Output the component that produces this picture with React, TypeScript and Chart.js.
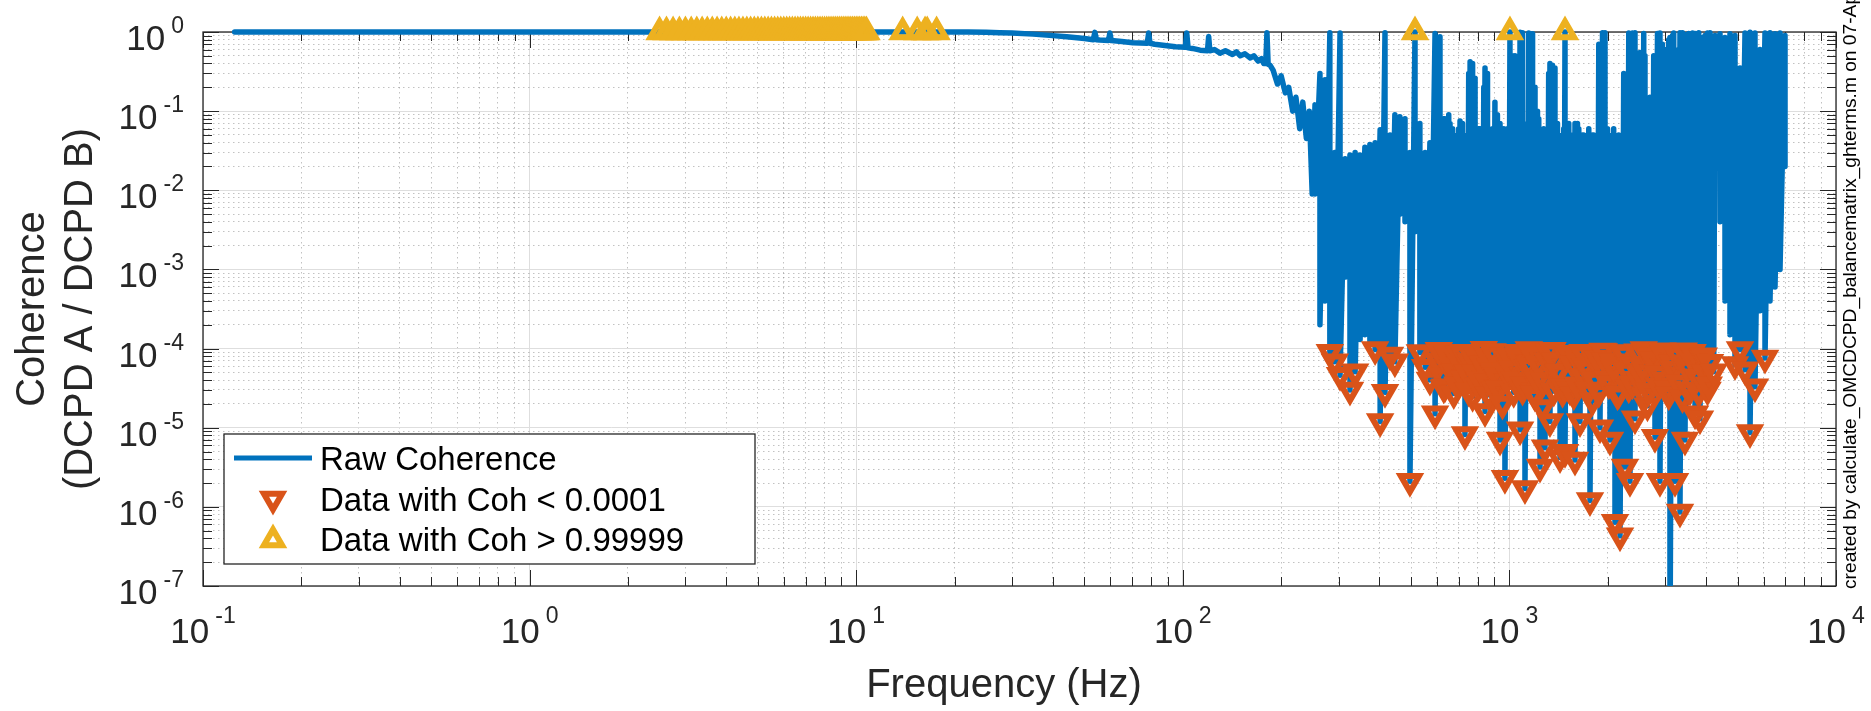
import React, { useEffect, useRef } from "react";
import { Chart, registerables } from "chart.js";

Chart.register(...registerables);

const FONT = "'Liberation Sans', Arial, Helvetica, sans-serif";
const BLUE = "#0072BD";
const RED = "#D95319";
const GOLD = "#EDB120";
const AXIS = "#262626";

// ---- Raw coherence: smooth low-frequency part (Hz, coherence) ----
const smoothFreq = [
  0.125, 0.25, 0.5, 0.75, 1, 1.5, 2, 2.25, 2.375, 10.875, 11.25, 11.75, 12.25, 12.75, 13.25,
  14.25, 14.75, 16.875, 18.25, 19, 20, 22, 25, 27.5, 30, 34.8, 40, 44.1, 50, 53.2, 53.8, 54.4,
  55.7, 59.2, 59.8, 60.4, 65, 70.4, 77.8, 78.6, 79.4, 82, 89.5, 95, 101.8, 102.8, 103.8, 107,
  113, 119, 120, 121, 125, 130, 135, 142, 146, 150, 155, 161, 165, 170, 174, 177, 179.5, 181,
  182.5, 185, 189, 195, 200, 206, 211, 217, 222, 228, 233, 239, 244, 249,
];
const smoothCoh = [
  0.9995, 0.9996, 0.9997, 0.9997, 0.9998, 0.9998, 0.9999, 0.9999, 0.99998, 0.99998, 0.99997,
  0.99995, 0.99995, 0.99996, 0.99995, 0.99996, 0.99994, 0.99995, 0.9999, 0.9998, 0.9996, 0.999,
  0.995, 0.98, 0.97, 0.94, 0.9, 0.87, 0.83, 0.8, 0.99, 0.8, 0.79, 0.78, 0.97, 0.78, 0.76, 0.73,
  0.72, 0.97, 0.72, 0.7, 0.67, 0.65, 0.64, 0.97, 0.63, 0.62, 0.59, 0.58, 0.88, 0.58, 0.6, 0.54,
  0.58, 0.52, 0.56, 0.5, 0.53, 0.47, 0.5, 0.43, 0.46, 0.4, 0.4, 0.98, 0.39, 0.38, 0.33, 0.22,
  0.28, 0.17, 0.2, 0.1, 0.15, 0.06, 0.13, 0.045, 0.1, 0.009,
];

// ---- Raw coherence: bins where coherence sits at unity (Hz, coherence) ----
const unityFreq = [
  2.5, 2.625, 2.75, 2.875, 3, 3.125, 3.25, 3.375, 3.5, 3.625, 3.75, 3.875, 4, 4.125, 4.25, 4.375,
  4.5, 4.625, 4.75, 4.875, 5, 5.125, 5.25, 5.375, 5.5, 5.625, 5.75, 5.875, 6, 6.125, 6.25, 6.375,
  6.5, 6.625, 6.75, 6.875, 7, 7.125, 7.25, 7.375, 7.5, 7.625, 7.75, 7.875, 8, 8.125, 8.25, 8.375,
  8.5, 8.625, 8.75, 8.875, 9, 9.125, 9.25, 9.375, 9.5, 9.625, 9.75, 9.875, 10, 10.125, 10.25,
  10.375, 10.5, 10.625, 10.75, 13.875, 15.375, 16.25, 16.5, 17.625,
];
const unityCoh = [
  0.999995, 0.999995, 0.999995, 0.999995, 0.999995, 0.999995, 0.999995, 0.999995, 0.999995,
  0.999995, 0.999995, 0.999995, 0.999995, 0.999995, 0.999995, 0.999995, 0.999995, 0.999995,
  0.999995, 0.999995, 0.999995, 0.999995, 0.999995, 0.999995, 0.999995, 0.999995, 0.999995,
  0.999995, 0.999995, 0.999995, 0.999995, 0.999995, 0.999995, 0.999995, 0.999995, 0.999995,
  0.999995, 0.999995, 0.999995, 0.999995, 0.999995, 0.999995, 0.999995, 0.999995, 0.999995,
  0.999995, 0.999995, 0.999995, 0.999995, 0.999995, 0.999995, 0.999995, 0.999995, 0.999995,
  0.999995, 0.999995, 0.999995, 0.999995, 0.999995, 0.999995, 0.999995, 0.999995, 0.999995,
  0.999995, 0.999995, 0.999995, 0.999995, 0.999995, 0.999995, 0.999995, 0.999995, 0.999995,
];

// ---- Raw coherence: noisy high-frequency part, each bin holds a high and a low sample ----
const noiseFreq = [
  254, 263, 272.5, 282, 292, 303, 314, 325, 337, 349, 361, 374, 388, 402, 416, 431, 446, 462, 479,
  496, 514, 532, 552, 571, 592, 613, 635, 658, 681, 706, 731, 758, 785, 813, 842, 872, 903, 936,
  969, 1004, 1040, 1078, 1116, 1157, 1198, 1241, 1285, 1331, 1379, 1429, 1480, 1533, 1588, 1645,
  1704, 1765, 1829, 1894, 1962, 2032, 2105, 2181, 2259, 2340, 2424, 2511, 2601, 2694, 2791, 2891,
  2995, 3102, 3214, 3329, 3448, 3573, 3701, 3833, 3971, 4113, 4261, 4414, 4572, 4736, 4906, 5082,
  5265, 5454, 5649, 5852, 6062, 6280, 6505, 6739, 6981,
];
const noiseHigh = [
  0.12, 0.3, 0.25, 0.98, 0.03, 0.97, 0.025, 0.028, 0.03, 0.028, 0.035, 0.038, 0.04, 0.058, 0.98,
  0.05, 0.09, 0.085, 0.08, 0.03, 0.999995, 0.07, 0.03, 0.04, 0.96, 0.87, 0.08, 0.07, 0.035, 0.075,
  0.04, 0.42, 0.26, 0.06, 0.35, 0.05, 0.13, 0.07, 0.04, 0.999995, 0.5, 0.99, 0.04, 0.96, 0.2,
  0.045, 0.035, 0.4, 0.35, 0.04, 0.999995, 0.035, 0.07, 0.04, 0.03, 0.035, 0.03, 0.035, 0.98, 0.04,
  0.045, 0.035, 0.04, 0.05, 0.98, 0.55, 0.5, 0.15, 0.06, 0.97, 0.6, 0.85, 0.06, 0.98, 0.93, 0.1,
  0.96, 0.4, 0.9, 0.98, 0.9, 0.95, 0.85, 0.95, 0.9, 0.35, 0.97, 0.99, 0.97, 0.6, 0.97, 0.98, 0.95,
  0.97, 0.9,
];
const noiseLow = [
  0.009, 2e-4, 4e-4, 9e-5, 6.8e-5, 4.6e-5, 8e-4, 3e-5, 5.1e-5, 1.3e-4, 1.5e-4, 1.2e-4, 9.7e-5,
  1.2e-5, 2.8e-5, 8.3e-5, 6.8e-5, 5e-3, 4e-3, 2.1e-6, 3e-3, 8.9e-5, 5.8e-5, 4e-5, 1.5e-5, 9e-5,
  3.3e-5, 1.2e-3, 5.1e-5, 6.7e-5, 8.2e-6, 7e-5, 5e-5, 4e-5, 1.6e-5, 6e-5, 3e-5, 7e-6, 2.3e-6,
  8e-5, 4e-5, 9.4e-6, 1.7e-6, 6e-5, 2.5e-5, 3.2e-6, 5.6e-6, 1.2e-5, 7e-5, 4.2e-6, 4.9e-6, 3e-5,
  3.9e-6, 1.2e-5, 6e-5, 1.2e-6, 4e-5, 1e-5, 7e-5, 7e-6, 6.4e-7, 4.3e-7, 3.2e-6, 2.1e-6, 1.3e-5,
  5e-5, 2.5e-5, 8e-5, 7.6e-6, 2.1e-6, 4e-5, 1e-8, 2.1e-6, 8.6e-7, 7e-6, 3e-5, 1.5e-5, 1.3e-5,
  5e-5, 6.7e-5, 0.02, 0.004, 4e-4, 1.5e-4, 6.3e-5, 9.7e-5, 5.4e-5, 8.7e-6, 3.3e-5, 3e-4, 7.6e-5,
  4e-4, 6e-4, 1e-3, 0.02,
];

// ---- Raw coherence: extra interleaved bins in the dense 600 Hz - 4.2 kHz band ----
const denseFreqA = [
  602.5, 624, 646, 670, 693, 718.5, 744, 771.5, 799, 827.5, 857, 887.5, 919, 952.5, 986, 1022,
  1058.5, 1097, 1136, 1177.5, 1219, 1263, 1308, 1355, 1403.5, 1454.5, 1506, 1560, 1616, 1674,
  1734, 1796, 1861.5, 1928, 1997, 2068, 2142.5, 2220, 2299, 2381.5, 2467, 2556, 2647, 2742, 2841,
  2942, 3048, 3157, 3271, 3388, 3509, 3637, 3767, 3901, 4042, 4186,
];
const denseHighA = [
  0.06, 0.08, 0.05, 0.06, 0.05, 0.07, 0.05, 0.4, 0.06, 0.05, 0.3, 0.06, 0.09, 0.05, 0.06, 0.5,
  0.06, 0.98, 0.06, 0.95, 0.1, 0.05, 0.06, 0.38, 0.07, 0.05, 0.06, 0.05, 0.07, 0.05, 0.045, 0.05,
  0.045, 0.98, 0.06, 0.05, 0.045, 0.05, 0.06, 0.97, 0.5, 0.45, 0.1, 0.07, 0.96, 0.7, 0.6, 0.9,
  0.3, 0.98, 0.15, 0.97, 0.5, 0.85, 0.97, 0.8,
];
const denseLowA = [
  7e-5, 4.5e-5, 8.5e-5, 6e-5, 3.5e-5, 9e-5, 5e-5, 2.5e-5, 8e-5, 6.5e-5, 3.8e-5, 9.2e-5, 4.5e-5,
  2e-5, 7.5e-5, 5.5e-5, 9e-5, 3e-5, 6e-5, 8.5e-5, 4e-5, 1.8e-5, 7e-5, 9.5e-5, 5e-5, 2.8e-5, 8e-5,
  6.5e-5, 3.5e-5, 9e-5, 5.5e-5, 2.2e-5, 7.5e-5, 9.3e-5, 4.2e-5, 6.8e-5, 2.6e-5, 8.8e-5, 5.2e-5,
  3.6e-5, 9.1e-5, 6e-5, 1.9e-5, 7.2e-5, 4.8e-5, 9.4e-5, 3.1e-5, 6.6e-5, 8.3e-5, 2.4e-5, 5.7e-5,
  9e-5, 4.4e-5, 7.8e-5, 3e-5, 2.5e-4,
];
const denseFreqB = [
  607.9, 629.4, 652, 675.6, 699.2, 724.9, 750.6, 778.3, 806, 834.8, 864.6, 895.4, 927.2, 961.1,
  995, 1031, 1068, 1107, 1146, 1188, 1230, 1274, 1319, 1367, 1416, 1467, 1520, 1574, 1631, 1689,
  1750, 1812, 1878, 1945, 2015, 2086, 2161, 2239, 2320, 2403, 2489, 2578, 2671, 2766, 2866, 2968,
  3075, 3185, 3300, 3418, 3540, 3669, 3800, 3936, 4077, 4223,
];
const denseHighB = [
  0.05, 0.07, 0.09, 0.05, 0.06, 0.05, 0.3, 0.06, 0.05, 0.2, 0.06, 0.05, 0.07, 0.06, 0.05, 0.06,
  0.3, 0.07, 0.97, 0.06, 0.08, 0.06, 0.3, 0.06, 0.05, 0.06, 0.07, 0.05, 0.06, 0.05, 0.06, 0.05,
  0.7, 0.06, 0.05, 0.06, 0.05, 0.3, 0.97, 0.4, 0.2, 0.96, 0.08, 0.5, 0.95, 0.3, 0.8, 0.97, 0.6,
  0.9, 0.96, 0.4, 0.98, 0.7, 0.9, 0.5,
];
const denseLowB = [
  9.5e-5, 3.2e-5, 6e-5, 2.7e-5, 8.6e-5, 4.2e-5, 2.9e-5, 7.4e-5, 3.4e-5, 9.8e-5, 2.6e-5, 5.2e-5,
  3.1e-5, 8.2e-5, 4.6e-5, 2.8e-5, 7.8e-5, 3.5e-5, 9.7e-5, 2.7e-5, 6.4e-5, 3.9e-5, 9.1e-5, 2.9e-5,
  5.1e-5, 3.3e-5, 8.7e-5, 2.6e-5, 6.9e-5, 4.4e-5, 3e-5, 7.6e-5, 2.8e-5, 9.2e-5, 3.6e-5, 5.8e-5,
  2.7e-5, 8.9e-5, 3.2e-5, 6.3e-5, 4.1e-5, 9.7e-5, 2.9e-5, 7.1e-5, 3.4e-5, 8.5e-5, 2.6e-5, 5.5e-5,
  3.7e-5, 9.4e-5, 3e-5, 6.7e-5, 2.8e-5, 8.1e-5, 3.5e-5, 5.1e-5,
];

const LOW_LIMIT = 0.0001;
const HIGH_LIMIT = 0.99999;
const xTickExps = [-1, 0, 1, 2, 3, 4];
const yTickExps = [0, -1, -2, -3, -4, -5, -6, -7];

const legendLabels = ["Raw Coherence", "Data with Coh < 0.0001", "Data with Coh > 0.99999"];
const xTitle = "Frequency (Hz)";
const yTitleLines = ["Coherence", "(DCPD A / DCPD B)"];
const sideNote = "created by calculate_OMCDCPD_balancematrix_ghterms.m on 07-Apr";

type P = { x: number; y: number };

function buildRaw(): P[] {
  const low: P[] = [];
  smoothFreq.forEach((f, i) => low.push({ x: f, y: smoothCoh[i] }));
  unityFreq.forEach((f, i) => low.push({ x: f, y: unityCoh[i] }));
  low.sort((a, b) => a.x - b.x);
  const bins: { f: number; hi: number; lo: number }[] = [];
  noiseFreq.forEach((f, i) => bins.push({ f, hi: noiseHigh[i], lo: noiseLow[i] }));
  denseFreqA.forEach((f, i) => bins.push({ f, hi: denseHighA[i], lo: denseLowA[i] }));
  denseFreqB.forEach((f, i) => bins.push({ f, hi: denseHighB[i], lo: denseLowB[i] }));
  bins.sort((a, b) => a.f - b.f);
  bins.forEach((b) => {
    low.push({ x: b.f, y: b.hi });
    low.push({ x: b.f, y: b.lo });
  });
  return low;
}

function isDecade(v: number) {
  const l = Math.log10(v);
  return Math.abs(l - Math.round(l)) < 1e-6;
}

function logTicks(lo: number, hi: number) {
  const out: { value: number }[] = [];
  for (let e = lo; e < hi; e++) {
    for (let m = 1; m < 10; m++) out.push({ value: m * Math.pow(10, e) });
  }
  out.push({ value: Math.pow(10, hi) });
  return out;
}

const MARK_R = 10.5;
const MARK_W = 6;

function triangle(ctx: CanvasRenderingContext2D, x: number, y: number, down: boolean, color: string) {
  const s = down ? -1 : 1;
  const r = MARK_R;
  ctx.beginPath();
  ctx.moveTo(x, y - s * r);
  ctx.lineTo(x + Math.sin((2 * Math.PI) / 3) * r, y + (s * r) / 2);
  ctx.lineTo(x - Math.sin((2 * Math.PI) / 3) * r, y + (s * r) / 2);
  ctx.closePath();
  ctx.lineJoin = "miter";
  ctx.strokeStyle = color;
  ctx.lineWidth = MARK_W;
  ctx.stroke();
}

const decorations = {
  id: "matlabDecor",
  beforeDatasetsDraw(chart: any) {
    const { ctx, chartArea: a } = chart;
    const xs = chart.scales.x;
    const ys = chart.scales.y;
    ctx.save();
    ctx.strokeStyle = AXIS;
    ctx.lineWidth = 1;
    ctx.beginPath();
    xs.ticks.forEach((t: any) => {
      const px = Math.round(xs.getPixelForValue(t.value)) + 0.5;
      const len = isDecade(t.value) ? 16 : 9;
      ctx.moveTo(px, a.bottom);
      ctx.lineTo(px, a.bottom - len);
      ctx.moveTo(px, a.top);
      ctx.lineTo(px, a.top + len);
    });
    ys.ticks.forEach((t: any) => {
      const py = Math.round(ys.getPixelForValue(t.value)) + 0.5;
      const len = isDecade(t.value) ? 16 : 9;
      ctx.moveTo(a.left, py);
      ctx.lineTo(a.left + len, py);
      ctx.moveTo(a.right, py);
      ctx.lineTo(a.right - len, py);
    });
    ctx.stroke();
    ctx.lineWidth = 1.3;
    ctx.strokeRect(a.left, a.top, a.right - a.left, a.bottom - a.top);
    ctx.restore();
  },
  beforeDatasetDraw(chart: any) {
    chart.ctx.lineJoin = "miter";
    chart.ctx.miterLimit = 10;
  },
  afterDraw(chart: any) {
    const { ctx, chartArea: a } = chart;
    const xs = chart.scales.x;
    const ys = chart.scales.y;
    ctx.save();
    ctx.fillStyle = AXIS;
    ctx.textBaseline = "alphabetic";
    ctx.textAlign = "left";
    const big = `35px ${FONT}`;
    const small = `23px ${FONT}`;
    const gap = 6;

    yTickExps.forEach((e) => {
      const py = ys.getPixelForValue(Math.pow(10, e));
      const es = String(e);
      ctx.font = small;
      const wE = ctx.measureText(es).width;
      ctx.font = big;
      const w10 = ctx.measureText("10").width;
      const R = a.left - 19;
      ctx.font = small;
      ctx.fillText(es, R - wE, py + 1);
      ctx.font = big;
      ctx.fillText("10", R - wE - gap - w10, py + 18);
    });

    xTickExps.forEach((e) => {
      const px = xs.getPixelForValue(Math.pow(10, e));
      const es = String(e);
      ctx.font = small;
      const wE = ctx.measureText(es).width;
      ctx.font = big;
      const w10 = ctx.measureText("10").width;
      const start = px - (w10 + gap + wE) / 2;
      ctx.fillText("10", start, a.bottom + 57);
      ctx.font = small;
      ctx.fillText(es, start + w10 + gap, a.bottom + 37);
    });

    ctx.font = `40px ${FONT}`;
    ctx.textAlign = "center";
    ctx.fillText(xTitle, 1004, 697);
    const cy = (a.top + a.bottom) / 2;
    [44, 92].forEach((bx, i) => {
      ctx.save();
      ctx.translate(bx, cy);
      ctx.rotate(-Math.PI / 2);
      ctx.fillText(yTitleLines[i], 0, 0);
      ctx.restore();
    });

    ctx.save();
    ctx.fillStyle = "#000";
    ctx.font = `19.2px ${FONT}`;
    ctx.textAlign = "left";
    ctx.translate(1856, 589);
    ctx.rotate(-Math.PI / 2);
    ctx.fillText(sideNote, 0, 0);
    ctx.restore();

    const L = { left: 224, top: 434, right: 755, bottom: 564 };
    ctx.fillStyle = "#fff";
    ctx.fillRect(L.left, L.top, L.right - L.left, L.bottom - L.top);
    ctx.strokeStyle = AXIS;
    ctx.lineWidth = 1.3;
    ctx.strokeRect(L.left, L.top, L.right - L.left, L.bottom - L.top);
    ctx.strokeStyle = BLUE;
    ctx.lineWidth = 5;
    ctx.lineCap = "butt";
    ctx.beginPath();
    ctx.moveTo(234, 458);
    ctx.lineTo(312, 458);
    ctx.stroke();
    triangle(ctx, 273, 499, true, RED);
    triangle(ctx, 273, 540, false, GOLD);
    ctx.fillStyle = "#000";
    ctx.font = `33px ${FONT}`;
    ctx.textAlign = "left";
    ctx.fillText(legendLabels[0], 320, 470);
    ctx.fillText(legendLabels[1], 320, 511);
    ctx.fillText(legendLabels[2], 320, 551);
    ctx.restore();
  },
};

export default function App() {
  const ref = useRef<HTMLCanvasElement | null>(null);
  useEffect(() => {
    if (!ref.current) return;
    const raw = buildRaw();
    const lowPts = raw.filter((p) => p.y < LOW_LIMIT);
    const highPts = raw.filter((p) => p.y > HIGH_LIMIT);
    const gridColor = (c: any) =>
      c.tick && isDecade(c.tick.value) ? "#dedede" : "rgba(120,120,120,0.45)";
    const gridDash = (c: any) => (c.tick && isDecade(c.tick.value) ? [] : [1.5, 3.5]);
    const chart = new Chart(ref.current, {
      type: "line",
      data: {
        datasets: [
          {
            label: legendLabels[0],
            data: raw,
            borderColor: BLUE,
            borderWidth: 5.5,
            pointRadius: 0,
            tension: 0,
            borderJoinStyle: "round",
            borderCapStyle: "round",
            fill: false,
            order: 3,
            clip: { left: 10, top: 8, right: 10, bottom: 0 },
          } as any,
          {
            label: legendLabels[1],
            data: lowPts,
            showLine: false,
            pointStyle: "triangle",
            pointRotation: 180,
            pointRadius: MARK_R,
            pointBorderWidth: MARK_W,
            pointBorderColor: RED,
            pointBackgroundColor: "rgba(0,0,0,0)",
            order: 2,
            clip: { left: 20, top: 20, right: 20, bottom: 0 },
          } as any,
          {
            label: legendLabels[2],
            data: highPts,
            showLine: false,
            pointStyle: "triangle",
            pointRotation: 0,
            pointRadius: MARK_R,
            pointBorderWidth: MARK_W,
            pointBorderColor: GOLD,
            pointBackgroundColor: "rgba(0,0,0,0)",
            order: 1,
            clip: { left: 20, top: 20, right: 20, bottom: 0 },
          } as any,
        ],
      },
      options: {
        responsive: false,
        animation: false,
        devicePixelRatio: 1,
        layout: { padding: { left: 203, top: 32, right: 35, bottom: 125 } },
        plugins: { legend: { display: false }, tooltip: { enabled: false } },
        events: [],
        scales: {
          x: {
            type: "logarithmic",
            min: 0.1,
            max: 10000,
            afterBuildTicks: (s: any) => {
              s.ticks = logTicks(-1, 4);
            },
            ticks: { display: false },
            grid: { display: true, drawTicks: false, color: gridColor, lineWidth: 1 },
            border: { display: false, dash: gridDash },
            title: { display: false },
          },
          y: {
            type: "logarithmic",
            min: 1e-7,
            max: 1,
            afterBuildTicks: (s: any) => {
              s.ticks = logTicks(-7, 0);
            },
            ticks: { display: false },
            grid: { display: true, drawTicks: false, color: gridColor, lineWidth: 1 },
            border: { display: false, dash: gridDash },
            title: { display: false },
          },
        },
      } as any,
      plugins: [decorations as any],
    });
    return () => chart.destroy();
  }, []);
  return (
    <div style={{ position: "absolute", left: 0, top: 0, width: 1871, height: 711, background: "#fff" }}>
      <canvas ref={ref} width={1871} height={711} style={{ display: "block" }} />
    </div>
  );
}
